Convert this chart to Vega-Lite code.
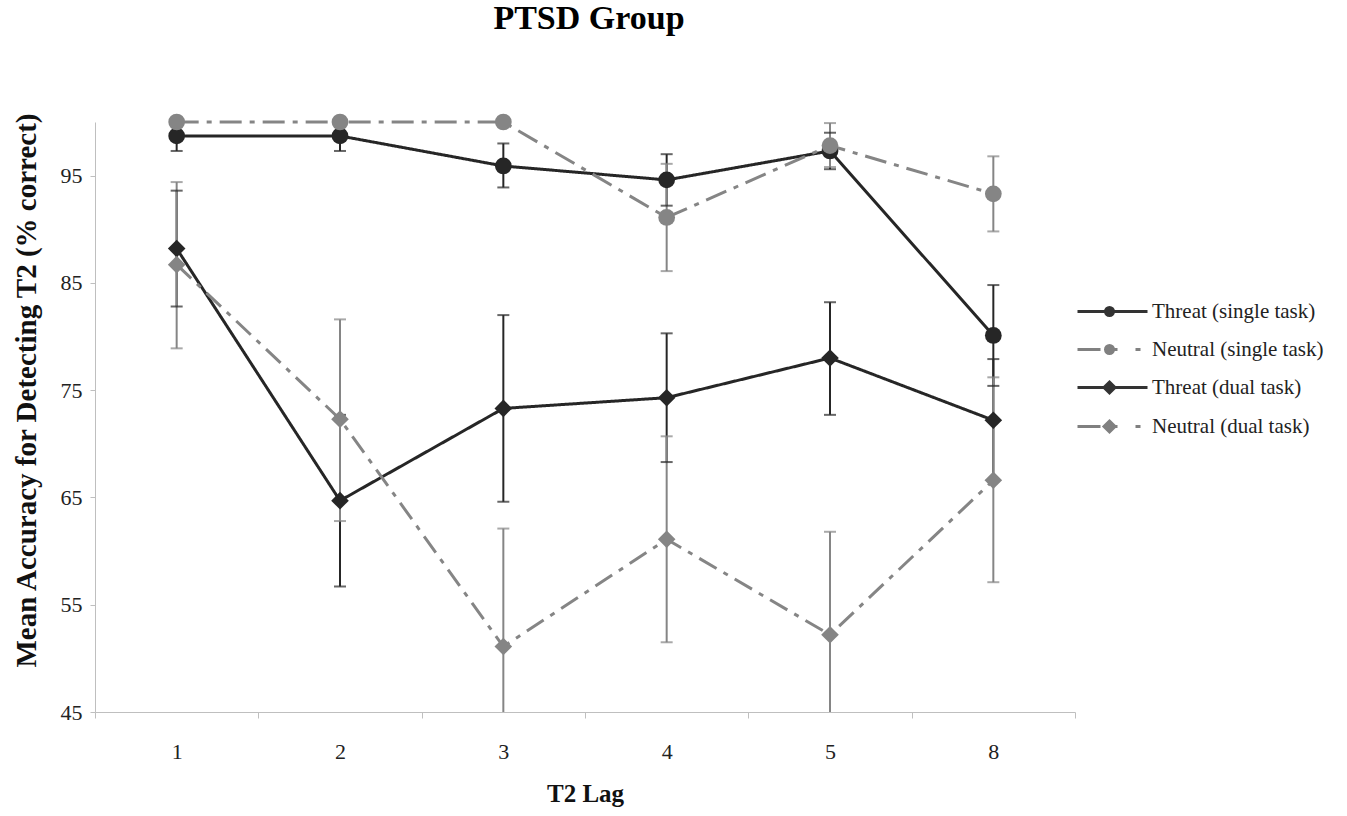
{
  "$schema": "https://vega.github.io/schema/vega-lite/v6.json",
  "width": 980,
  "height": 590,
  "autosize": {"type": "none"},
  "padding": {"left": 95, "top": 122, "right": 272, "bottom": 104},
  "background": "white",
  "title": {"text": "PTSD Group", "font": "Liberation Serif", "fontSize": 34, "fontWeight": "bold", "color": "#000", "anchor": "middle", "offset": 76, "dx": 4},
  "config": {"view": {"stroke": null}, "font": "Liberation Serif"},
  "data": {"values": [
    {"lag": "1", "series": "Threat (single task)", "mean": 98.7, "lo": 97.3, "hi": 100.1},
    {"lag": "2", "series": "Threat (single task)", "mean": 98.7, "lo": 97.3, "hi": 100.1},
    {"lag": "3", "series": "Threat (single task)", "mean": 95.9, "lo": 93.9, "hi": 98.0},
    {"lag": "4", "series": "Threat (single task)", "mean": 94.6, "lo": 92.2, "hi": 97.0},
    {"lag": "5", "series": "Threat (single task)", "mean": 97.3, "lo": 95.6, "hi": 99.0},
    {"lag": "8", "series": "Threat (single task)", "mean": 80.1, "lo": 75.4, "hi": 84.8},
    {"lag": "1", "series": "Neutral (single task)", "mean": 100, "lo": 100, "hi": 100},
    {"lag": "2", "series": "Neutral (single task)", "mean": 100, "lo": 100, "hi": 100},
    {"lag": "3", "series": "Neutral (single task)", "mean": 100, "lo": 100, "hi": 100},
    {"lag": "4", "series": "Neutral (single task)", "mean": 91.1, "lo": 86.1, "hi": 96.1},
    {"lag": "5", "series": "Neutral (single task)", "mean": 97.8, "lo": 95.8, "hi": 99.9},
    {"lag": "8", "series": "Neutral (single task)", "mean": 93.3, "lo": 89.8, "hi": 96.8},
    {"lag": "1", "series": "Threat (dual task)", "mean": 88.2, "lo": 82.8, "hi": 93.6},
    {"lag": "2", "series": "Threat (dual task)", "mean": 64.7, "lo": 56.7, "hi": 72.7},
    {"lag": "3", "series": "Threat (dual task)", "mean": 73.3, "lo": 64.6, "hi": 82.0},
    {"lag": "4", "series": "Threat (dual task)", "mean": 74.3, "lo": 68.3, "hi": 80.3},
    {"lag": "5", "series": "Threat (dual task)", "mean": 78.0, "lo": 72.7, "hi": 83.2},
    {"lag": "8", "series": "Threat (dual task)", "mean": 72.2, "lo": 66.5, "hi": 77.9},
    {"lag": "1", "series": "Neutral (dual task)", "mean": 86.7, "lo": 78.9, "hi": 94.4},
    {"lag": "2", "series": "Neutral (dual task)", "mean": 72.3, "lo": 62.8, "hi": 81.6},
    {"lag": "3", "series": "Neutral (dual task)", "mean": 51.1, "lo": 40.1, "hi": 62.1},
    {"lag": "4", "series": "Neutral (dual task)", "mean": 61.1, "lo": 51.5, "hi": 70.7},
    {"lag": "5", "series": "Neutral (dual task)", "mean": 52.2, "lo": 42.5, "hi": 61.8},
    {"lag": "8", "series": "Neutral (dual task)", "mean": 66.6, "lo": 57.1, "hi": 76.2}
  ]},
  "encoding": {
    "x": {
      "field": "lag", "type": "ordinal", "sort": ["1", "2", "3", "4", "5", "8"],
      "scale": {"type": "band", "paddingInner": 0, "paddingOuter": 0},
      "title": "T2 Lag",
      "axis": {"tickBand": "extent", "labelAngle": 0, "domainColor": "#bfbfbf", "tickColor": "#bfbfbf", "tickSize": 6, "labelFont": "Liberation Serif", "labelFontSize": 22, "labelColor": "#222", "labelPadding": 23, "titleFont": "Liberation Serif", "titleFontSize": 25, "titleFontWeight": "bold", "titleColor": "#111", "titlePadding": 19}
    }
  },
  "layer": [
    {
      "mark": {"type": "rule", "clip": true, "strokeWidth": 2},
      "encoding": {
        "y": {"field": "lo", "type": "quantitative", "scale": {"domain": [45, 100], "nice": false, "zero": false},
          "title": "Mean Accuracy for Detecting T2 (% correct)",
          "axis": {"values": [45, 55, 65, 75, 85, 95], "grid": false, "domainColor": "#bfbfbf", "tickColor": "#bfbfbf", "tickSize": 5, "labelFont": "Liberation Serif", "labelFontSize": 22, "labelColor": "#222", "labelPadding": 8, "titleFont": "Liberation Serif", "titleFontSize": 29, "titleFontWeight": "bold", "titleColor": "#111", "titlePadding": 19, "titleY": 268}},
        "y2": {"field": "hi"},
        "color": {"field": "series", "type": "nominal", "scale": {"domain": ["Threat (single task)", "Threat (dual task)", "Neutral (single task)", "Neutral (dual task)"], "range": ["#262626", "#262626", "#858585", "#858585"]}, "legend": null}
      }
    },
    {
      "mark": {"type": "tick", "clip": true, "size": 12, "thickness": 2},
      "encoding": {
        "y": {"field": "hi", "type": "quantitative"},
        "color": {"field": "series", "type": "nominal", "legend": null}
      }
    },
    {
      "mark": {"type": "tick", "clip": true, "size": 12, "thickness": 2},
      "encoding": {
        "y": {"field": "lo", "type": "quantitative"},
        "color": {"field": "series", "type": "nominal", "legend": null}
      }
    },
    {
      "mark": {"type": "line"},
      "encoding": {
        "y": {"field": "mean", "type": "quantitative"},
        "color": {"field": "series", "type": "nominal", "legend": null},
        "strokeDash": {"field": "series", "type": "nominal", "scale": {"domain": ["Threat (single task)", "Threat (dual task)", "Neutral (single task)", "Neutral (dual task)"], "range": [[1, 0], [1, 0], [22, 8, 5, 8], [20, 8, 5, 8]]}, "legend": null},
        "strokeWidth": {"field": "series", "type": "nominal", "scale": {"domain": ["Threat (single task)", "Threat (dual task)", "Neutral (single task)", "Neutral (dual task)"], "range": [3, 3, 4, 2.5]}, "legend": null}
      }
    },
    {
      "transform": [{"filter": "indexof(datum.series, 'single') >= 0"}],
      "mark": {"type": "point", "filled": true, "shape": "circle", "size": 280, "opacity": 1},
      "encoding": {
        "y": {"field": "mean", "type": "quantitative"},
        "color": {"field": "series", "type": "nominal", "legend": null}
      }
    },
    {
      "transform": [{"filter": "indexof(datum.series, 'dual') >= 0"}],
      "mark": {"type": "point", "filled": true, "shape": "diamond", "size": 310, "opacity": 1},
      "encoding": {
        "y": {"field": "mean", "type": "quantitative"},
        "color": {"field": "series", "type": "nominal", "legend": null}
      }
    },
    {
      "transform": [{"filter": "false"}],
      "mark": {"type": "point", "filled": true, "opacity": 1},
      "encoding": {
        "y": {"field": "mean", "type": "quantitative"},
        "fill": {"field": "series", "type": "nominal",
          "scale": {"domain": ["Threat (single task)", "Neutral (single task)", "Threat (dual task)", "Neutral (dual task)"], "range": ["#333333", "#808080", "#333333", "#808080"]},
          "legend": {"title": null, "orient": "none", "legendX": 981, "legendY": 178, "padding": 0, "symbolSize": 400, "symbolStrokeWidth": 3, "symbolOpacity": 1, "labelFont": "Liberation Serif", "labelFontSize": 21, "labelColor": "#222", "labelOffset": 53, "labelLimit": 400, "rowPadding": 16}},
        "stroke": {"field": "series", "type": "nominal",
          "scale": {"domain": ["Threat (single task)", "Neutral (single task)", "Threat (dual task)", "Neutral (dual task)"], "range": ["#333333", "#808080", "#333333", "#808080"]},
          "legend": {"title": null, "orient": "none", "legendX": 981, "legendY": 178, "padding": 0, "symbolSize": 400, "symbolStrokeWidth": 3, "symbolOpacity": 1, "labelFont": "Liberation Serif", "labelFontSize": 21, "labelColor": "#222", "labelOffset": 53, "labelLimit": 400, "rowPadding": 16}},
        "shape": {"field": "series", "type": "nominal",
          "scale": {"domain": ["Threat (single task)", "Neutral (single task)", "Threat (dual task)", "Neutral (dual task)"],
            "range": [
              "M-1,0L6,0M1.8,0A0.4,0.4,0,1,1,2.6,0A0.4,0.4,0,1,1,1.8,0Z",
              "M-1,0L1.3,0M1.8,0A0.4,0.4,0,1,1,2.6,0A0.4,0.4,0,1,1,1.8,0ZM2.6,0L3,0M4.8,0L5.3,0",
              "M-1,0L6,0M2.2,-0.55L2.75,0L2.2,0.55L1.65,0Z",
              "M-1,0L1.3,0M2.2,-0.55L2.75,0L2.2,0.55L1.65,0ZM2.75,0L3,0M4.8,0L5.3,0"
            ]},
          "legend": {"title": null, "orient": "none", "legendX": 981, "legendY": 178, "padding": 0, "symbolSize": 400, "symbolStrokeWidth": 3, "symbolOpacity": 1, "labelFont": "Liberation Serif", "labelFontSize": 21, "labelColor": "#222", "labelOffset": 53, "labelLimit": 400, "rowPadding": 16}}
      }
    }
  ]
}
